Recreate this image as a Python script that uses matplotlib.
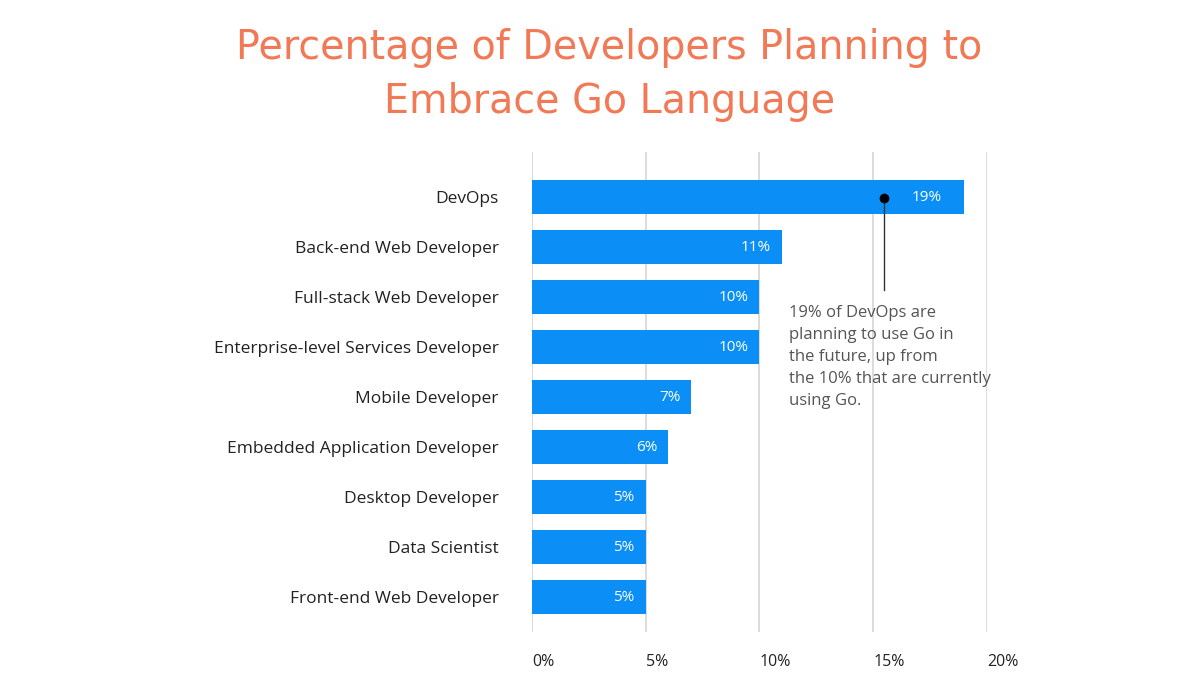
import matplotlib.pyplot as plt

roles = ["DevOps", "Back-end Web Developer", "Full-stack Web Developer",
         "Enterprise-level Services Developer", "Mobile Developer",
         "Embedded Application Developer", "Desktop Developer",
         "Data Scientist", "Front-end Web Developer"]
percent = [19, 11, 10, 10, 7, 6, 5, 5, 5]
xticks = [0, 5, 10, 15, 20]
note = ("19% of DevOps are\nplanning to use Go in\nthe future, up from\n"
        "the 10% that are currently\nusing Go.")

plt.rcParams['font.family'] = ['Open Sans', 'DejaVu Sans']

fig = plt.figure(figsize=(12, 6.86), dpi=100)
ax = fig.add_axes([0.4433, 0.0787, 0.3792, 0.6997])

y = list(range(len(roles)))
ax.barh(y, percent, height=0.68, color='#0B8FF7', zorder=2)

for xv in xticks:
    ax.axvline(xv, color='#d9d9d9', lw=1.3, zorder=1)

# value labels inside the bars
for i, v in enumerate(percent):
    off = -22 if i == 0 else -11
    ax.annotate(f"{v}%", (v, i), xytext=(off, 0), textcoords='offset pixels',
                ha='right', va='center', color='white', fontsize=11, zorder=3)

ax.set_xlim(0, 20)
ax.set_ylim(8.7, -0.9)
ax.set_yticks(y)
ax.set_yticklabels(roles, fontsize=12.5, color='#222222')
ax.set_xticks(xticks)
ax.set_xticklabels([f"{t}%" for t in xticks], fontsize=11.5, color='#222222', ha='left')
ax.tick_params(axis='both', length=0)
ax.tick_params(axis='y', pad=24)
ax.tick_params(axis='x', pad=16)
for s in ax.spines.values():
    s.set_visible(False)

# DevOps callout
ax.plot([15.47, 15.47], [0.02, 1.85], color='#333333', lw=1, zorder=4)
ax.plot(15.47, 0.02, 'o', color='black', ms=6, zorder=5)
ax.text(11.3, 2.16, note, fontsize=12, color='#555555', va='top', ha='left',
        linespacing=1.5, zorder=4)

fig.text(0.508, 0.891, "Percentage of Developers Planning to\nEmbrace Go Language",
         ha='center', va='center', fontsize=28.5, color='#F27956', linespacing=1.45,
         family='DejaVu Sans')

fig.savefig("out.png", dpi=100, facecolor='white')
